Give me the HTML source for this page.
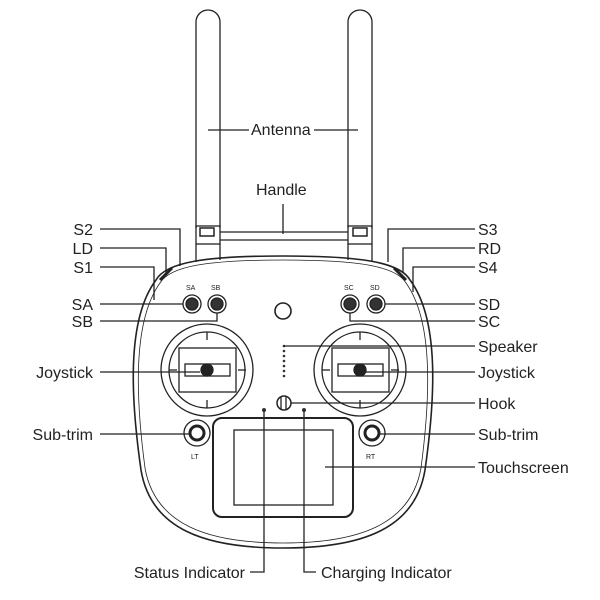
<!DOCTYPE html>
<html><head><style>
html,body{margin:0;padding:0;background:#fff;}
svg{display:block;}
text{font-family:"Liberation Sans",sans-serif;font-size:16px;fill:#222;}
.s{font-size:7px;}
</style></head><body>
<svg width="600" height="600" viewBox="0 0 600 600" fill="none" stroke="#222" stroke-width="1.3">
<path d="M196 228 V22 a12 12 0 0 1 24 0 V228"/>
<path d="M348 228 V22 a12 12 0 0 1 24 0 V228"/>
<rect x="196" y="226" width="24" height="18" />
<rect x="200" y="228" width="14" height="8" stroke-width="1.5"/>
<rect x="348" y="226" width="24" height="18" />
<rect x="353" y="228" width="14" height="8" stroke-width="1.5"/>
<line x1="220" y1="232" x2="348" y2="232"/>
<line x1="220" y1="240" x2="348" y2="240"/>
<line x1="196" y1="244" x2="196" y2="262"/><line x1="220" y1="244" x2="220" y2="260"/>
<line x1="348" y1="244" x2="348" y2="260"/><line x1="372" y1="244" x2="372" y2="262"/>
<path d="M283 256 C360 256 400 262 410 280 C440 320 435 400 425 470 C415 530 360 548 283 548 C206 548 151 530 141 470 C131 400 126 320 156 280 C166 262 206 256 283 256 Z" stroke-width="1.6"/>
<path d="M283 260 C358 260 396 266 406 283 C434 322 430 400 421 468 C411 525 358 543 283 543 C208 543 155 525 145 468 C136 400 132 322 160 283 C170 266 208 260 283 260 Z" stroke-width="0.8"/>
<path d="M172 268 L160 280 M394 268 L406 280" stroke-width="3"/>
<g stroke-width="1.3">
<circle cx="192" cy="304" r="9"/><circle cx="192" cy="304" r="6" fill="#333"/>
<circle cx="217" cy="304" r="9"/><circle cx="217" cy="304" r="6" fill="#333"/>
<circle cx="350" cy="304" r="9"/><circle cx="350" cy="304" r="6" fill="#333"/>
<circle cx="376" cy="304" r="9"/><circle cx="376" cy="304" r="6" fill="#333"/>
</g>
<text x="186" y="290" class="s" stroke="none">SA</text>
<text x="211" y="290" class="s" stroke="none">SB</text>
<text x="344" y="290" class="s" stroke="none">SC</text>
<text x="370" y="290" class="s" stroke="none">SD</text>
<circle cx="283" cy="311" r="8" stroke-width="1.6"/>
<g id="j">
<circle cx="207" cy="370" r="46"/><circle cx="207" cy="370" r="38"/>
<rect x="179" y="348" width="57" height="44"/>
<rect x="185" y="364" width="45" height="12"/>
<circle cx="207" cy="370" r="6" fill="#222"/>
<line x1="207" y1="332" x2="207" y2="340"/><line x1="207" y1="400" x2="207" y2="408"/>
<line x1="169" y1="370" x2="177" y2="370"/><line x1="238" y1="370" x2="246" y2="370"/>
</g>
<use href="#j" x="153"/>
<g fill="#333" stroke="none">
<circle cx="284" cy="346" r="1.3"/><circle cx="284" cy="351" r="1.3"/><circle cx="284" cy="356" r="1.3"/><circle cx="284" cy="361" r="1.3"/><circle cx="284" cy="366" r="1.3"/><circle cx="284" cy="371" r="1.3"/><circle cx="284" cy="376" r="1.3"/>
<circle cx="264" cy="410" r="2"/><circle cx="304" cy="410" r="2"/>
</g>
<circle cx="284" cy="403" r="7" stroke-width="1.5"/>
<line x1="281" y1="397" x2="281" y2="409"/><line x1="286" y1="397" x2="286" y2="409"/>
<circle cx="197" cy="433" r="13"/><circle cx="197" cy="433" r="7" stroke-width="3"/>
<circle cx="372" cy="433" r="13"/><circle cx="372" cy="433" r="7" stroke-width="3"/>
<text x="191" y="459" class="s" stroke="none">LT</text>
<text x="366" y="459" class="s" stroke="none">RT</text>
<rect x="213" y="418" width="140" height="99" rx="9" stroke-width="2"/>
<rect x="234" y="430" width="99" height="75" stroke-width="1.3"/>
<path d="M100 229 H180 V266"/>
<path d="M100 248 H166 V274"/>
<path d="M100 267 H154 V300"/>
<path d="M100 304 H183"/>
<path d="M100 321 H217 V313"/>
<path d="M100 372 H200"/>
<path d="M100 434 H190"/>
<path d="M475 229 H388 V262"/>
<path d="M475 248 H403 V272"/>
<path d="M475 267 H413 V292"/>
<path d="M475 304 H385"/>
<path d="M475 321 H350 V313"/>
<path d="M475 346 H284"/>
<path d="M475 372 H365"/>
<path d="M475 403 H291"/>
<path d="M475 434 H380"/>
<path d="M475 467 H325"/>
<path d="M208 130 H249 M314 130 H358"/>
<path d="M283 204 V234"/>
<path d="M264 410 V572 H250"/>
<path d="M304 410 V572 H316"/>
<g stroke="none">
<text x="251" y="135">Antenna</text>
<text x="256" y="195">Handle</text>
<text x="93" y="235" text-anchor="end">S2</text>
<text x="93" y="254" text-anchor="end">LD</text>
<text x="93" y="273" text-anchor="end">S1</text>
<text x="93" y="310" text-anchor="end">SA</text>
<text x="93" y="327" text-anchor="end">SB</text>
<text x="93" y="378" text-anchor="end">Joystick</text>
<text x="93" y="440" text-anchor="end">Sub-trim</text>
<text x="478" y="235">S3</text>
<text x="478" y="254">RD</text>
<text x="478" y="273">S4</text>
<text x="478" y="310">SD</text>
<text x="478" y="327">SC</text>
<text x="478" y="352">Speaker</text>
<text x="478" y="378">Joystick</text>
<text x="478" y="409">Hook</text>
<text x="478" y="440">Sub-trim</text>
<text x="478" y="473">Touchscreen</text>
<text x="245" y="578" text-anchor="end">Status Indicator</text>
<text x="321" y="578">Charging Indicator</text>
</g>
</svg>
</body></html>
